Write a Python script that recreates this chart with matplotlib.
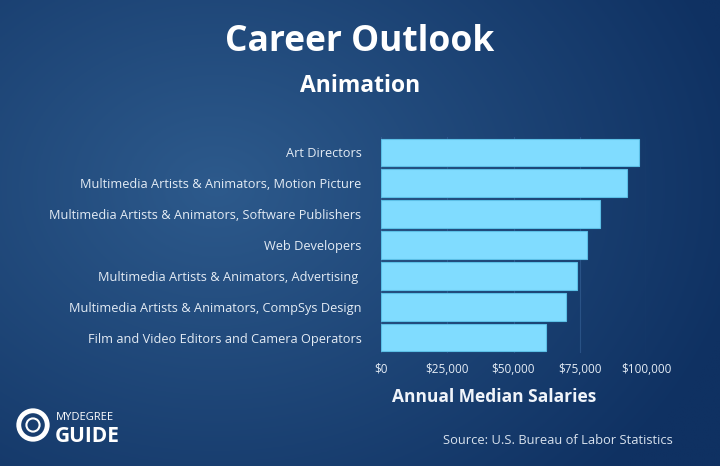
import numpy as np
import matplotlib.pyplot as plt

# Data
careers = ["Art Directors",
           "Multimedia Artists & Animators, Motion Picture",
           "Multimedia Artists & Animators, Software Publishers",
           "Web Developers",
           "Multimedia Artists & Animators, Advertising ",
           "Multimedia Artists & Animators, CompSys Design",
           "Film and Video Editors and Camera Operators"]
salaries = [97300, 92800, 82600, 77700, 74000, 69800, 62300]
ticks = [0, 25000, 50000, 75000, 100000]
tick_labels = ["$0", "$25,000", "$50,000", "$75,000", "$100,000"]

plt.rcParams['font.family'] = ['Open Sans', 'DejaVu Sans']

fig = plt.figure(figsize=(7.2, 4.66), dpi=100)

# Background gradient (lighter left/centre, darker right edge)
bg = fig.add_axes([0, 0, 1, 1])
yy, xx = np.mgrid[0:1:200j, 0:1:300j]
r = np.sqrt(((xx - 0.3) / 1.0) ** 2 + ((yy - 0.4) / 1.2) ** 2)
light = np.array([0x2d, 0x5a, 0x8c]) / 255
dark = np.array([0x0f, 0x31, 0x62]) / 255
t = np.clip(r / 0.75, 0, 1)[..., None]
img = light * (1 - t) + dark * t
bg.imshow(img, aspect='auto', extent=[0, 1, 0, 1], origin='upper')
bg.set_xlim(0, 1)
bg.set_ylim(0, 1)
bg.axis('off')

# Bar chart
ax = fig.add_axes([381 / 720, 1 - 353 / 466, 265 / 720, 216 / 466])
ax.patch.set_alpha(0)
y = np.arange(len(careers))
ax.barh(y, salaries, height=0.9, color='#80dcff', edgecolor='#5cbfe6', linewidth=0.8, zorder=3)
ax.set_ylim(len(careers) - 0.5, -0.5)
ax.set_xlim(0, 100000)
ax.set_yticks(y)
ax.set_yticklabels(careers, color='#e4ecf5', fontsize=9.2)
ax.set_xticks(ticks)
ax.set_xticklabels(tick_labels, color='#e4ecf5', fontsize=8.5)
ax.tick_params(length=0, pad=7)
ax.tick_params(axis='y', pad=14)
ax.grid(axis='x', color='#3d6aa0', linewidth=0.8, alpha=0.5, zorder=0)
for s in ax.spines.values():
    s.set_visible(False)

# Titles and axis label
fig.text(0.5, 1 - 42 / 466, "Career Outlook", color='white', fontsize=25.5, fontweight='bold', ha='center', va='center')
fig.text(0.5, 1 - 86 / 466, "Animation", color='white', fontsize=16.5, fontweight='bold', ha='center', va='center')
fig.text(494 / 720, 1 - 397 / 466, "Annual Median Salaries", color='#f0f4fa', fontsize=12.5,
         fontweight='bold', ha='center', va='center')

# Source
fig.text(673 / 720, 1 - 440 / 466, "Source: U.S. Bureau of Labor Statistics", color='#d8e2ee', fontsize=9.3,
         ha='right', va='center')

# Logo
bg.scatter([33 / 720], [1 - 425 / 466], s=420, facecolors='none', edgecolors='white', linewidths=3.5, zorder=5)
bg.scatter([33 / 720], [1 - 425 / 466], s=90, facecolors='none', edgecolors='white', linewidths=1.5, zorder=5)
fig.text(56 / 720, 1 - 417 / 466, "MYDEGREE", color='white', fontsize=8, va='center')
fig.text(55 / 720, 1 - 436 / 466, "GUIDE", color='white', fontsize=15, fontweight='bold', va='center')

fig.savefig("out.png", dpi=100)
